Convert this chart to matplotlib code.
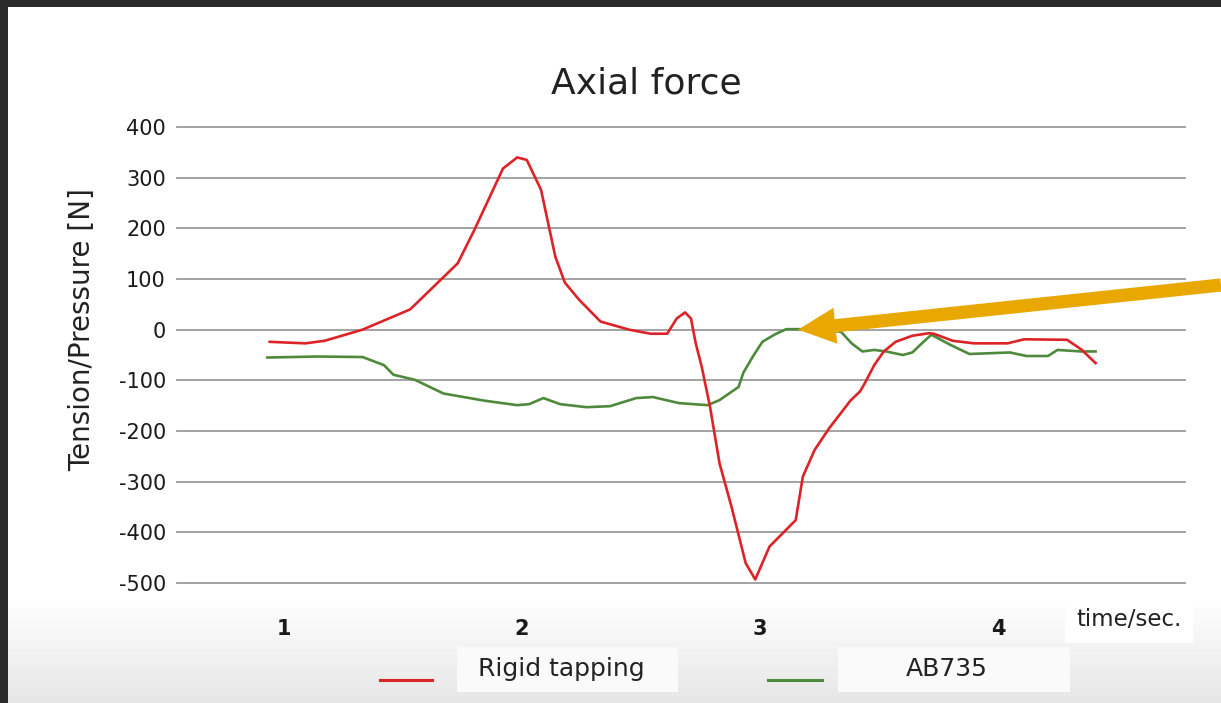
import numpy as np
import matplotlib.pyplot as plt
from matplotlib.patches import Rectangle
from matplotlib.lines import Line2D

# --- data ---
series_names = ["Rigid tapping", "AB735"]

rigid_t = [0.94, 1.09, 1.17, 1.33, 1.53, 1.73, 1.80, 1.92, 1.98, 2.02, 2.08, 2.14,
           2.18, 2.24, 2.33, 2.45, 2.54, 2.61, 2.65, 2.685, 2.71, 2.73, 2.755, 2.79,
           2.83, 2.88, 2.94, 2.98, 3.04, 3.15, 3.18, 3.23, 3.29, 3.38, 3.42, 3.44,
           3.48, 3.52, 3.57, 3.64, 3.71, 3.73, 3.81, 3.90, 4.04, 4.11, 4.29, 4.35, 4.41]
rigid_f = [-24, -27, -22, 0, 40, 131, 197, 318, 340, 335, 276, 144,
           93, 59, 16, 0, -8, -8, 22, 34, 22, -27, -73, -152,
           -264, -349, -461, -493, -428, -376, -290, -237, -195, -140, -122, -106,
           -70, -43, -24, -12, -7, -8, -22, -27, -27, -19, -20, -39, -66]

ab_t = [0.93, 1.14, 1.33, 1.42, 1.46, 1.55, 1.67, 1.84, 1.98, 2.03, 2.09, 2.16,
        2.27, 2.37, 2.48, 2.55, 2.66, 2.78, 2.83, 2.87, 2.91, 2.93, 2.97, 3.01,
        3.06, 3.11, 3.16, 3.25, 3.34, 3.385, 3.43, 3.48, 3.53, 3.60, 3.64, 3.68,
        3.72, 3.80, 3.88, 4.05, 4.12, 4.21, 4.25, 4.35, 4.41]
ab_f = [-55, -53, -54, -70, -89, -99, -126, -140, -149, -147, -135, -147,
        -153, -151, -135, -133, -145, -149, -139, -126, -113, -85, -53, -24,
        -10, 1, 1, 0, -4, -27, -43, -40, -43, -50, -45, -27,
        -10, -30, -48, -45, -52, -52, -40, -43, -43]

y_ticks = [400, 300, 200, 100, 0, -100, -200, -300, -400, -500]
x_ticks = [1, 2, 3, 4]

red = "#dc2328"
green = "#4f8a3c"
W, H = 1221, 703

plt.rcParams['font.family'] = ['DejaVu Sans']

fig = plt.figure(figsize=(W / 100, H / 100), dpi=100, facecolor="white")

# light grey band at the bottom of the slide
bg = fig.add_axes([0, 0, 1, 1], zorder=-5)
rows = np.arange(H)
grad = np.repeat(np.clip(1 - (rows - 595) / 108 * 0.10, 0.90, 1.0)[:, None], 2, axis=1)
bg.imshow(grad, cmap="gray", vmin=0, vmax=1, aspect="auto", extent=[0, 1, 0, 1],
          origin="upper")
bg.axis("off")

ax = fig.add_axes([177 / W, 1 - 583 / H, (1185 - 177) / W, (583 - 127) / H])
ax.set_facecolor("none")
ax.set_xlim(0.5504, 4.7857)
ax.set_ylim(-500, 400)

for yv in y_ticks:
    ax.axhline(yv, color="#a3a3a3", lw=1.4, zorder=1, clip_on=False)

ax.plot(ab_t, ab_f, color=green, lw=1.9, zorder=3)
ax.plot(rigid_t, rigid_f, color=red, lw=1.9, zorder=4)

for s in ax.spines.values():
    s.set_visible(False)
ax.set_yticks(y_ticks)
ax.set_yticklabels([str(v) for v in y_ticks], fontsize=15, color="#1a1a1a")
ax.set_xticks(x_ticks)
ax.set_xticklabels([str(v) for v in x_ticks], fontsize=15, fontweight="bold",
                   color="#1a1a1a")
ax.tick_params(axis="y", length=0, pad=8)
ax.tick_params(axis="x", length=0, pad=26)

ax.set_ylabel("Tension/Pressure [N]", fontsize=20, color="#222222")
ax.yaxis.set_label_coords((96 - 177) / 1008, (583 - 330) / 456)
fig.text(646 / W, 1 - 83 / H, "Axial force", fontsize=26, color="#222222",
         ha="center", va="center")

fig.text(1129 / W, 1 - 620 / H, "time/sec.", fontsize=16.5, color="#222222",
         ha="center", va="center",
         bbox=dict(boxstyle="square,pad=0.5", fc="white", ec="none"))

# legend
fig.patches.append(Rectangle((457 / W, 1 - 692 / H), 221 / W, 45 / H,
                             transform=fig.transFigure, fc="#fafafa", ec="none"))
fig.patches.append(Rectangle((838 / W, 1 - 692 / H), 232 / W, 45 / H,
                             transform=fig.transFigure, fc="#fafafa", ec="none"))
fig.lines.append(Line2D([380 / W, 432 / W], [1 - 680 / H] * 2, color=red, lw=2.2,
                        transform=fig.transFigure))
fig.lines.append(Line2D([768 / W, 822 / W], [1 - 680 / H] * 2, color=green, lw=2.2,
                        transform=fig.transFigure))
fig.text(561 / W, 1 - 669 / H, series_names[0], fontsize=18, color="#222222",
         ha="center", va="center")
fig.text(947 / W, 1 - 669 / H, series_names[1], fontsize=18, color="#222222",
         ha="center", va="center")

# orange arrow pointing at the AB735 plateau
ax.annotate("", xy=(3.16, 0), xycoords="data",
            xytext=(1.0, 1 - 285 / H), textcoords="figure fraction",
            arrowprops=dict(arrowstyle="simple,head_length=2.7,head_width=2.6,tail_width=0.95",
                            mutation_scale=10, fc="#e8a800", ec="none",
                            shrinkA=0, shrinkB=0),
            annotation_clip=False, zorder=6)

# dark frame at top and left
fig.patches.append(Rectangle((0, 1 - 7 / H), 1, 7 / H, transform=fig.transFigure,
                             fc="#2b2b2b", ec="none", zorder=10))
fig.patches.append(Rectangle((0, 0), 8 / W, 1, transform=fig.transFigure,
                             fc="#2b2b2b", ec="none", zorder=10))

fig.savefig("out.png", dpi=100, facecolor="white")
